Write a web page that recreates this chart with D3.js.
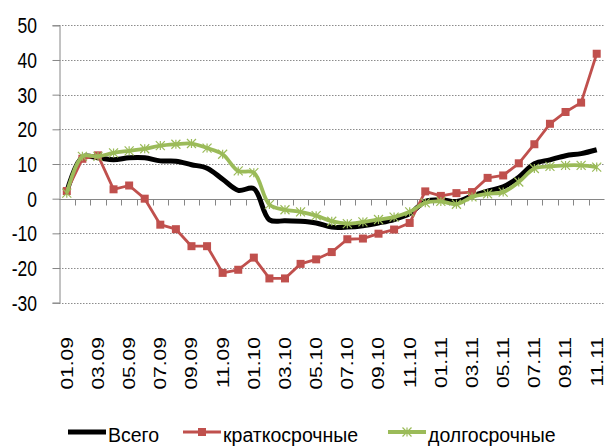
<!DOCTYPE html>
<head>
  <meta charset="utf-8">
  <script src="https://d3js.org/d3.v7.min.js"></script>
  <style>
    body { margin: 0; background: #fff; }
    svg { display: block; }
    text { font-family: "Liberation Sans", Arial, sans-serif; fill: #000; }
  </style>
</head>

<body>
  <svg width="605" height="446"></svg>
  <script>
    // месяцы 01.09 ... 11.11
    var months = ['01.09','02.09','03.09','04.09','05.09','06.09','07.09','08.09','09.09','10.09','11.09','12.09',
                  '01.10','02.10','03.10','04.10','05.10','06.10','07.10','08.10','09.10','10.10','11.10','12.10',
                  '01.11','02.11','03.11','04.11','05.11','06.11','07.11','08.11','09.11','10.11','11.11'];
    var yTicks = [-30, -20, -10, 0, 10, 20, 30, 40, 50];

    var vsego = [2, 12, 11.8, 11.2, 11.8, 11.8, 10.9, 10.8, 9.8, 8.8, 5.6, 2.4,
                 2.9, -6.1, -6.4, -6.5, -7, -8.2, -8.2, -7.8, -7, -6, -4.3, -0.8,
                 -0.3, -0.8, 0.8, 2.2, 3.4, 6.2, 10.1, 11.2, 12.4, 13, 14.1];
    var kratko = [2.2, 11.5, 12.5, 2.7, 3.8, 0, -7.5, -8.8, -13.7, -13.7, -21.4, -20.5,
                  -17, -23, -23, -18.8, -17.5, -15.4, -11.7, -11.5, -10.1, -8.9, -7, 2.1,
                  0.8, 1.6, 1.9, 6, 6.7, 10.2, 15.7, 21.6, 25, 27.7, 41.8];
    var dolgo = [1.6, 12.2, 12.2, 13.2, 13.8, 14.4, 15.3, 15.7, 15.9, 14.6, 12.8, 8,
                 7.5, -1.7, -3.2, -3.8, -4.9, -6.5, -7.2, -6.7, -6, -5.3, -3.8, -1.2,
                 -0.8, -1.6, 0.5, 1.4, 1.9, 4.8, 8.7, 9.3, 9.6, 9.6, 9.1];

    var series = [
      {name: 'Всего', values: vsego, color: '#000000', width: 5, curve: d3.curveCatmullRom, marker: null},
      {name: 'краткосрочные', values: kratko, color: '#C0504D', width: 2.8, curve: d3.curveLinear, marker: 'square'},
      {name: 'долгосрочные', values: dolgo, color: '#9BBB59', width: 3.8, curve: d3.curveCatmullRom, marker: 'star'}
    ];

    var margin = {top: 25.3, left: 59, right: 0.5, bottom: 143.3};
    var width = 605, height = 446;
    var stretch = 1.29; // подписи осей вытянуты по вертикали

    var svg = d3.select('svg');

    var xScale = d3.scaleBand()
      .domain(months)
      .range([margin.left, width - margin.right]);

    var yScale = d3.scaleLinear()
      .domain([-30, 50])
      .range([height - margin.bottom, margin.top]);

    // сетка
    svg.append('g')
      .selectAll('line')
      .data(yTicks.filter(d => d !== 0))
      .join('line')
        .attr('x1', margin.left)
        .attr('x2', width)
        .attr('y1', d => Math.round(yScale(d)) + 0.5)
        .attr('y2', d => Math.round(yScale(d)) + 0.5)
        .attr('stroke', '#8c8c8c')
        .attr('stroke-width', 1)
        .attr('stroke-dasharray', '1.5,1.5');

    // ось Y
    var eixoY = d3.axisLeft(yScale)
      .tickValues(yTicks)
      .tickSize(7)
      .tickFormat('');
    var gy = svg.append('g')
      .attr('transform', 'translate(' + (margin.left + 0.5) + ',0)')
      .call(eixoY);
    gy.select('.domain').attr('stroke', '#868686');
    gy.selectAll('.tick line').attr('stroke', '#868686');

    svg.append('g')
      .selectAll('text')
      .data(yTicks)
      .join('text')
        .attr('transform', d => 'translate(37,' + yScale(d) + ') scale(1,' + stretch + ')')
        .attr('text-anchor', 'end')
        .attr('dy', '0.36em')
        .attr('font-size', 17.5)
        .text(d => d);

    // ось X на нуле
    var y0 = Math.round(yScale(0)) + 0.5;
    svg.append('line')
      .attr('x1', margin.left).attr('x2', width - margin.right)
      .attr('y1', y0).attr('y2', y0)
      .attr('stroke', '#868686');
    svg.append('g')
      .selectAll('line')
      .data(months)
      .join('line')
        .attr('x1', d => Math.round(xScale(d) + xScale.bandwidth()) + 0.5)
        .attr('x2', d => Math.round(xScale(d) + xScale.bandwidth()) + 0.5)
        .attr('y1', y0)
        .attr('y2', y0 + 6)
        .attr('stroke', '#868686');

    // подписи месяцев (через один)
    svg.append('g')
      .selectAll('text')
      .data(months.filter((d, i) => i % 2 === 0))
      .join('text')
        .attr('transform', d => 'translate(' + (xScale(d) + xScale.bandwidth() / 2) + ',337) scale(1,' + stretch + ') rotate(-90)')
        .attr('text-anchor', 'end')
        .attr('dy', '0.36em')
        .attr('font-size', 16.3)
        .text(d => d);

    // линии
    series.forEach(s => {
      var linha = d3.line()
        .x((d, i) => xScale(months[i]) + xScale.bandwidth() / 2)
        .y(d => yScale(d))
        .curve(s.curve);
      svg.append('path')
        .attr('d', linha(s.values))
        .attr('fill', 'none')
        .attr('stroke', s.color)
        .attr('stroke-width', s.width)
        .attr('stroke-linejoin', 'round');
      drawMarkers(svg, s, s.values.map((v, i) => [xScale(months[i]) + xScale.bandwidth() / 2, yScale(v)]));
    });

    function drawMarkers(g, s, pts) {
      if (s.marker === 'square') {
        g.append('g').selectAll('rect')
          .data(pts)
          .join('rect')
            .attr('x', d => d[0] - 4)
            .attr('y', d => d[1] - 4)
            .attr('width', 8)
            .attr('height', 8)
            .attr('fill', s.color);
      } else if (s.marker === 'star') {
        var r = 4.5;
        g.append('g').selectAll('path')
          .data(pts)
          .join('path')
            .attr('d', d => 'M' + d[0] + ',' + (d[1] - r) + 'V' + (d[1] + r) +
              'M' + (d[0] - r) + ',' + (d[1] - r) + 'L' + (d[0] + r) + ',' + (d[1] + r) +
              'M' + (d[0] - r) + ',' + (d[1] + r) + 'L' + (d[0] + r) + ',' + (d[1] - r))
            .attr('stroke', s.color)
            .attr('stroke-width', 1.2)
            .attr('fill', 'none');
      }
    }

    // легенда
    var legendX = [68, 183, 388];
    var legend = svg.append('g');
    series.forEach((s, i) => {
      var lg = legend.append('g');
      lg.append('line')
        .attr('x1', legendX[i]).attr('x2', legendX[i] + 38)
        .attr('y1', 432).attr('y2', 432)
        .attr('stroke', s.color)
        .attr('stroke-width', s.width);
      drawMarkers(lg, s, [[legendX[i] + 19, 432]]);
      lg.append('text')
        .attr('x', legendX[i] + 40)
        .attr('y', 442)
        .attr('font-size', 19.5)
        .text(s.name);
    });
  </script>
</body>
